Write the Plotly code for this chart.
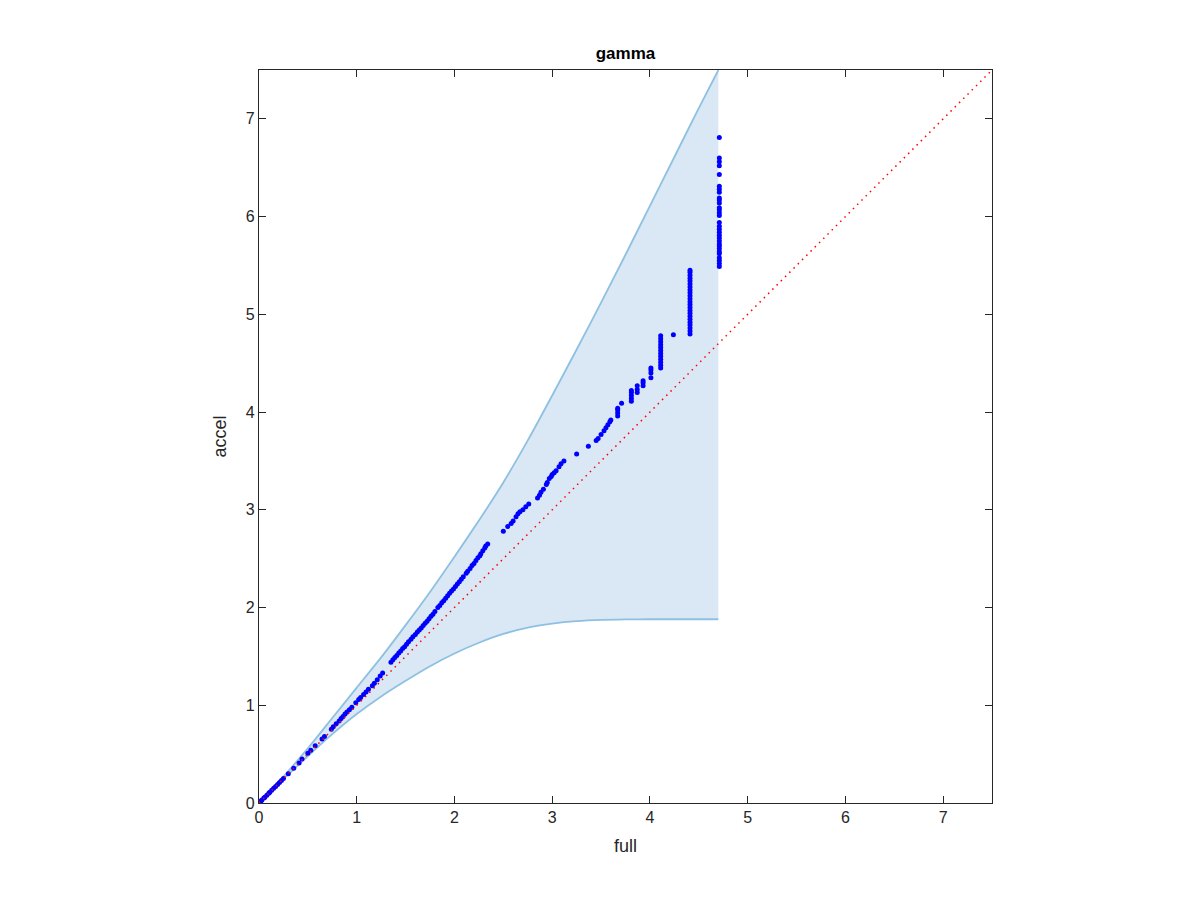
import plotly.graph_objects as go

# Envelope (band)
band_x = [0, 0.25, 0.5, 0.75, 1.0, 1.25, 1.5, 1.75, 2.0, 2.25, 2.5, 2.75,
          3.0, 3.25, 3.5, 3.75, 4.0, 4.25, 4.5, 4.7]
band_upper = [0, 0.27, 0.56, 0.87, 1.18, 1.49, 1.82, 2.16, 2.52, 2.89, 3.28, 3.71,
              4.17, 4.64, 5.12, 5.61, 6.11, 6.61, 7.11, 7.5]
band_lower = [0, 0.245, 0.48, 0.705, 0.91, 1.09, 1.25, 1.40, 1.53, 1.64, 1.73, 1.795,
              1.835, 1.86, 1.873, 1.878, 1.88, 1.88, 1.88, 1.88]

# Scatter points (full vs accel)
full = [0.00, 0.01, 0.02, 0.03, 0.05, 0.06, 0.08, 0.10, 0.11, 0.13, 0.15, 0.17, 0.19, 0.21, 0.23, 0.25,
        0.30, 0.355, 0.41, 0.44, 0.50, 0.53, 0.575, 0.645, 0.67,
        0.74, 0.76, 0.79, 0.82, 0.84, 0.86, 0.88, 0.90, 0.925, 0.95, 0.99, 1.02, 1.04, 1.07, 1.095,
        1.12, 1.16, 1.18, 1.21, 1.24, 1.265,
        1.35, 1.37, 1.39, 1.41, 1.43, 1.45, 1.47, 1.49, 1.51, 1.53, 1.555, 1.575, 1.60, 1.62, 1.64,
        1.66, 1.68, 1.70, 1.72, 1.74, 1.76, 1.78, 1.80, 1.83, 1.85, 1.87, 1.89, 1.91, 1.93, 1.95,
        1.97, 1.99, 2.01, 2.03, 2.05, 2.07, 2.09, 2.12, 2.135, 2.16, 2.18, 2.20, 2.22, 2.24, 2.26,
        2.27, 2.29, 2.31, 2.32, 2.34,
        2.50, 2.545, 2.58, 2.60, 2.63, 2.65, 2.67, 2.70, 2.73, 2.76, 2.85, 2.87, 2.885, 2.91, 2.94,
        2.95, 2.97, 2.99, 3.00, 3.02, 3.04, 3.07, 3.09, 3.12, 3.25, 3.37, 3.45, 3.47, 3.50, 3.53,
        3.55, 3.57, 3.59, 3.60, 3.67, 3.67, 3.67, 3.67, 3.71, 3.81, 3.81, 3.81, 3.81, 3.81,
        3.87, 3.87, 3.87, 3.93, 3.93, 3.93, 4.01, 4.01, 4.01, 4.01,
        4.11, 4.11, 4.11, 4.11, 4.11, 4.11, 4.11, 4.11, 4.11, 4.11, 4.11, 4.11,
        4.24,
        4.41, 4.41, 4.41, 4.41, 4.41, 4.41, 4.41, 4.41, 4.41, 4.41, 4.41, 4.41,
        4.41, 4.41, 4.41, 4.41, 4.41, 4.41, 4.41, 4.41, 4.41, 4.41, 4.41,
        4.71, 4.71, 4.71, 4.71, 4.71, 4.71, 4.71, 4.71, 4.71, 4.71, 4.71, 4.71,
        4.71, 4.71, 4.71, 4.71, 4.71, 4.71, 4.71, 4.71, 4.71, 4.71, 4.71, 4.71,
        4.71, 4.71, 4.71, 4.71, 4.71, 4.71, 4.71]
accel = [0.00, 0.01, 0.02, 0.03, 0.05, 0.06, 0.08, 0.10, 0.11, 0.13, 0.15, 0.17, 0.19, 0.21, 0.23, 0.25,
         0.30, 0.355, 0.41, 0.45, 0.51, 0.54, 0.585, 0.655, 0.68,
         0.755, 0.78, 0.81, 0.84, 0.865, 0.885, 0.91, 0.93, 0.955, 0.98, 1.025, 1.06, 1.08, 1.11, 1.135,
         1.165, 1.20, 1.225, 1.26, 1.30, 1.33,
         1.44, 1.465, 1.49, 1.51, 1.535, 1.555, 1.58, 1.60, 1.625, 1.65, 1.675, 1.70, 1.725, 1.75, 1.77,
         1.79, 1.815, 1.84, 1.86, 1.885, 1.91, 1.93, 1.96, 2.00, 2.02, 2.05, 2.07, 2.095, 2.12, 2.145,
         2.17, 2.19, 2.215, 2.24, 2.265, 2.29, 2.315, 2.35, 2.37, 2.40, 2.43, 2.45, 2.48, 2.51, 2.53,
         2.55, 2.58, 2.61, 2.63, 2.65,
         2.78, 2.83, 2.86, 2.885, 2.93, 2.96, 2.98, 3.00, 3.03, 3.06, 3.12, 3.15, 3.18, 3.21, 3.26,
         3.28, 3.32, 3.34, 3.36, 3.38, 3.40, 3.44, 3.47, 3.50, 3.57, 3.65, 3.71, 3.73, 3.77, 3.81,
         3.84, 3.87, 3.90, 3.92, 3.96, 3.99, 4.02, 4.04, 4.09, 4.11, 4.14, 4.17, 4.20, 4.22,
         4.20, 4.23, 4.27, 4.27, 4.30, 4.32, 4.35, 4.40, 4.43, 4.45,
         4.45, 4.48, 4.51, 4.54, 4.57, 4.60, 4.63, 4.66, 4.69, 4.72, 4.75, 4.78,
         4.79,
         4.80, 4.83, 4.86, 4.89, 4.92, 4.95, 4.98, 5.01, 5.04, 5.07, 5.10, 5.13,
         5.16, 5.19, 5.22, 5.25, 5.28, 5.31, 5.34, 5.37, 5.40, 5.43, 5.45,
         5.49, 5.52, 5.55, 5.58, 5.62, 5.64, 5.67, 5.70, 5.72, 5.75, 5.78, 5.81,
         5.84, 5.87, 5.90, 5.94, 6.01, 6.04, 6.07, 6.09, 6.14, 6.17, 6.19, 6.25,
         6.28, 6.31, 6.43, 6.52, 6.56, 6.60, 6.81]

diag_ends = [0, 7.5]
ticks = [0, 1, 2, 3, 4, 5, 6, 7]
axis_range = [0, 7.5]

fill_color = "#d9e8f4"
edge_color = "#8ec0e1"
axis_color = "#262626"
font_family = "Liberation Sans, Arial, Helvetica, sans-serif"

fig = go.Figure()
fig.add_trace(go.Scatter(x=band_x, y=band_lower, mode="lines",
                         line=dict(color=edge_color, width=1.8, shape="spline", smoothing=0.6),
                         showlegend=False, hoverinfo="skip"))
fig.add_trace(go.Scatter(x=band_x, y=band_upper, mode="lines", fill="tonexty",
                         fillcolor=fill_color,
                         line=dict(color=edge_color, width=1.8, shape="spline", smoothing=0.6),
                         showlegend=False, hoverinfo="skip"))
fig.add_trace(go.Scatter(x=full, y=accel, mode="markers",
                         marker=dict(color="#0000ff", size=5, line=dict(width=0)),
                         showlegend=False))
fig.add_trace(go.Scatter(x=diag_ends, y=diag_ends, mode="lines",
                         line=dict(color="#ff0000", width=1.5, dash="1.5px,4.5px"),
                         showlegend=False))

axis_common = dict(
    range=axis_range, tickvals=ticks, ticktext=[str(t) for t in ticks],
    showline=True, linecolor=axis_color, linewidth=1.2, mirror="ticks",
    ticks="inside", ticklen=7, tickwidth=1.2, tickcolor=axis_color,
    showgrid=False, zeroline=False,
    tickfont=dict(family=font_family, size=16, color=axis_color),
)

fig.update_layout(
    width=1200, height=900,
    margin=dict(l=251, r=216, t=62, b=105),
    paper_bgcolor="white", plot_bgcolor="white",
    title=dict(text="<b>gamma</b>", x=0.5, xref="paper", y=1 - 45 / 900, yref="container",
               xanchor="center", yanchor="middle",
               font=dict(family=font_family, size=17, color="#000000")),
    xaxis=dict(**axis_common, title=dict(text="full", standoff=14,
               font=dict(family=font_family, size=18, color=axis_color))),
    yaxis=dict(**axis_common, title=dict(text="accel", standoff=14,
               font=dict(family=font_family, size=18, color=axis_color))),
)

fig.write_html("out.html")
